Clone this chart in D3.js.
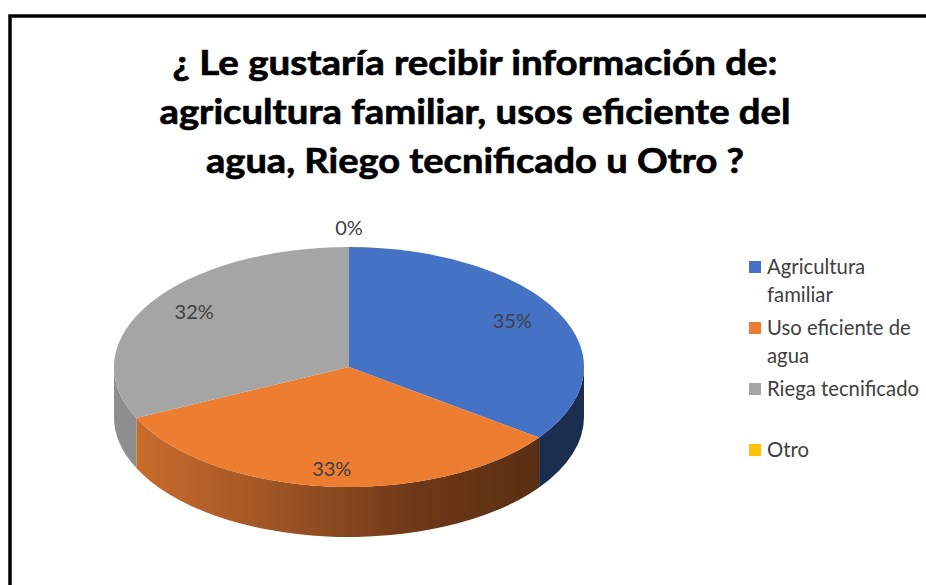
<!DOCTYPE html>
<html>
<head>
<meta charset="utf-8">
<script src="https://cdn.jsdelivr.net/npm/d3@7"></script>
<style>
  body { margin: 0; background: #fff; }
  text { font-family: Lato, "Open Sans", sans-serif; }
</style>
</head>
<body>
<svg id="chart" width="926" height="585"></svg>
<script>
// chart data
const titleLines = [
  "¿ Le gustaría recibir información de:",
  "agricultura familiar, usos eficiente del",
  "agua, Riego tecnificado u Otro ?"
];
const categories = ["Agricultura familiar", "Uso eficiente de agua", "Riega tecnificado", "Otro"];
const values = [35, 33, 32, 0];
const legendLines = [["Agricultura", "familiar"], ["Uso eficiente de", "agua"], ["Riega tecnificado"], ["Otro"]];
const topColors = ["#4472c4", "#ed7d31", "#a5a5a5", "#ffc000"];
const sideColors = ["#1c2e50", "url(#orangeSide)", "#8e8e8e", "#9c7500"];

const svg = d3.select("#chart");

// outer frame of the chart area
svg.append("rect")
  .attr("x", 10).attr("y", 16)
  .attr("width", 1000).attr("height", 1000)
  .attr("fill", "none")
  .attr("stroke", "#000")
  .attr("stroke-width", 3.5);

// title, squeezed to the widths seen in the picture
const titleWidths = [605, 631, 538];
svg.append("g").selectAll("text")
  .data(titleLines)
  .join("text")
  .attr("x", 475)
  .attr("y", (d, i) => 75 + i * 49)
  .attr("text-anchor", "middle")
  .attr("font-size", 35)
  .attr("font-weight", "bold")
  .attr("fill", "#000")
  .attr("stroke", "#000")
  .attr("stroke-width", 0.7)
  .attr("textLength", (d, i) => titleWidths[i])
  .attr("lengthAdjust", "spacingAndGlyphs")
  .text(d => d);

// 3D pie
const cx = 349, cy = 367, rx = 235, ry = 120, depth = 50;
const pie = d3.pie().sort(null).startAngle(0).endAngle(2 * Math.PI);
const arcs = pie(values);

const px = a => cx + rx * Math.sin(a);
const py = a => cy - ry * Math.cos(a);

// gradient on the front rim of the orange slice
const defs = svg.append("defs");
const grad = defs.append("linearGradient")
  .attr("id", "orangeSide")
  .attr("gradientUnits", "userSpaceOnUse")
  .attr("x1", px(arcs[1].endAngle)).attr("x2", px(arcs[1].startAngle))
  .attr("y1", 0).attr("y2", 0);
grad.selectAll("stop")
  .data([[0, "#c96b2c"], [0.35, "#9e5425"], [0.7, "#6d3817"], [1, "#5a2f13"]])
  .join("stop")
  .attr("offset", d => d[0])
  .attr("stop-color", d => d[1]);

// rims: only the part facing the viewer (between 90° and 270°)
function sidePath(a0, a1) {
  const s = Math.max(a0, Math.PI / 2), e = Math.min(a1, 3 * Math.PI / 2);
  if (e <= s) return null;
  return "M" + px(s) + "," + py(s) +
    "A" + rx + "," + ry + " 0 0 1 " + px(e) + "," + py(e) +
    "L" + px(e) + "," + (py(e) + depth) +
    "A" + rx + "," + ry + " 0 0 0 " + px(s) + "," + (py(s) + depth) + "Z";
}

svg.append("g").selectAll("path")
  .data(arcs.filter(d => sidePath(d.startAngle, d.endAngle)))
  .join("path")
  .attr("d", d => sidePath(d.startAngle, d.endAngle))
  .attr("fill", d => sideColors[d.index]);

const arc = d3.arc().innerRadius(0).outerRadius(rx);
svg.append("g")
  .attr("transform", `translate(${cx},${cy}) scale(1,${ry / rx})`)
  .selectAll("path")
  .data(arcs)
  .join("path")
  .attr("d", arc)
  .attr("fill", d => topColors[d.index]);

// percentage labels
svg.append("g").selectAll("text")
  .data(arcs)
  .join("text")
  .attr("x", d => {
    const m = (d.startAngle + d.endAngle) / 2;
    return d.value === 0 ? cx + rx * Math.sin(m) : cx + 0.78 * rx * Math.sin(m);
  })
  .attr("y", d => {
    const m = (d.startAngle + d.endAngle) / 2;
    return d.value === 0 ? cy - ry - 19 : cy - 0.85 * ry * Math.cos(m);
  })
  .attr("dy", "0.35em")
  .attr("text-anchor", "middle")
  .attr("font-size", 20)
  .attr("fill", "#404040")
  .text(d => d.value + "%");

// legend
const legend = svg.append("g").selectAll("g")
  .data(categories)
  .join("g")
  .attr("transform", (d, i) => `translate(749,${261 + i * 61})`);

legend.append("rect")
  .attr("width", 12).attr("height", 12)
  .attr("fill", (d, i) => topColors[i]);

legend.append("text")
  .attr("x", 18)
  .attr("y", 13)
  .attr("font-size", 20.3)
  .attr("fill", "#404040")
  .selectAll("tspan")
  .data((d, i) => legendLines[i])
  .join("tspan")
  .attr("x", 18)
  .attr("dy", (d, j) => j === 0 ? 0 : 28)
  .text(d => d);
</script>
</body>
</html>
